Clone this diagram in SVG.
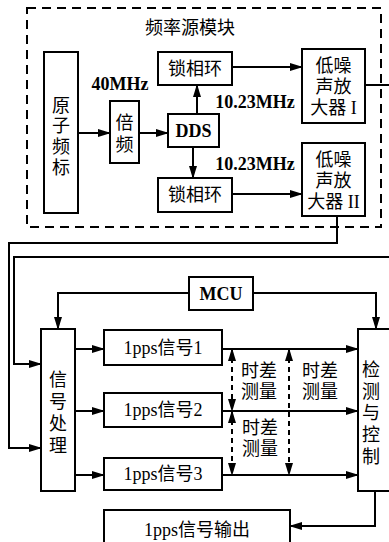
<svg xmlns="http://www.w3.org/2000/svg" width="389" height="542" viewBox="0 0 389 542">
<style>
.box{fill:#fff;stroke:#000;stroke-width:2}
.ln{fill:none;stroke:#000;stroke-width:2}
.arr{marker-end:url(#ah)}
.dash{fill:none;stroke:#000;stroke-width:2;stroke-dasharray:5 4;marker-start:url(#ahs);marker-end:url(#ah)}
text{font-family:"Liberation Serif","Noto Sans CJK SC",serif;font-size:18px;fill:#000;text-anchor:middle;dominant-baseline:central}
.b{font-weight:bold}
</style>
<defs>
<marker id="ah" markerUnits="userSpaceOnUse" markerWidth="13" markerHeight="8" refX="12" refY="4" orient="auto"><path d="M0,0 L13,4 L0,8 Z" fill="#000"/></marker>
<marker id="ahs" markerUnits="userSpaceOnUse" markerWidth="13" markerHeight="8" refX="12" refY="4" orient="auto-start-reverse"><path d="M0,0 L13,4 L0,8 Z" fill="#000"/></marker>
</defs>
<rect x="0" y="0" width="389" height="542" fill="#fff"/>
<g id="freq-module">
<rect x="27" y="8" width="354" height="219" fill="none" stroke="#000" stroke-width="2" stroke-dasharray="9 6"/>
<text x="190" y="28">频率源模块</text>
</g>
<g id="connectors">
<line class="ln arr" x1="78" y1="133" x2="110" y2="133"/>
<line class="ln arr" x1="139" y1="133" x2="168" y2="133"/>
<line class="ln arr" x1="197" y1="114" x2="197" y2="85"/>
<line class="ln arr" x1="232" y1="67" x2="302" y2="67"/>
<line class="ln arr" x1="193" y1="147" x2="193" y2="178"/>
<line class="ln arr" x1="232" y1="194" x2="302" y2="194"/>
<line class="ln" x1="365" y1="85" x2="389" y2="85"/>
<polyline class="ln arr" points="337,216 337,243 9,243 9,448 41,448"/>
<polyline class="ln arr" points="389,257 14,257 14,364 41,364"/>
<polyline class="ln arr" points="189,293 58,293 58,329"/>
<polyline class="ln arr" points="253,293 376,293 376,329"/>
<line class="ln arr" x1="75" y1="349" x2="104" y2="349"/>
<line class="ln arr" x1="75" y1="411" x2="104" y2="411"/>
<line class="ln arr" x1="75" y1="475" x2="104" y2="475"/>
<line class="ln arr" x1="222" y1="349" x2="358" y2="349"/>
<line class="ln arr" x1="222" y1="411" x2="358" y2="411"/>
<line class="ln arr" x1="222" y1="475" x2="358" y2="475"/>
<line class="dash" x1="232" y1="349" x2="232" y2="411"/>
<line class="dash" x1="232" y1="411" x2="232" y2="475"/>
<line class="dash" x1="289" y1="349" x2="289" y2="475"/>
<polyline class="ln arr" points="375,491 375,526 290,526"/>
</g>
<g id="atomic"><rect class="box" x="44" y="52" width="34" height="161"/>
<text x="61" y="106">原</text><text x="61" y="126">子</text><text x="61" y="147">频</text><text x="61" y="168">标</text></g>
<g id="multiplier"><rect class="box" x="110" y="101" width="29" height="62"/>
<text x="124.5" y="123">倍</text><text x="124.5" y="145">频</text></g>
<g id="label-40"><text class="b" x="120" y="84">40MHz</text></g>
<g id="dds"><rect class="box" x="168" y="114" width="51" height="33"/><text class="b" x="193.5" y="131">DDS</text></g>
<g id="pll1"><rect class="box" x="158" y="52" width="74" height="33"/><text x="195" y="69">锁相环</text></g>
<g id="pll2"><rect class="box" x="158" y="178" width="74" height="34"/><text x="195" y="195">锁相环</text></g>
<g id="label-f1"><text class="b" x="255" y="102">10.23MHz</text></g>
<g id="label-f2"><text class="b" x="255" y="164">10.23MHz</text></g>
<g id="lna1"><rect class="box" x="302" y="49" width="63" height="74"/>
<text x="333.5" y="66">低噪</text><text x="333.5" y="87">声放</text><text x="333.5" y="108">大器 I</text></g>
<g id="lna2"><rect class="box" x="302" y="143" width="63" height="73"/>
<text x="333.5" y="160">低噪</text><text x="333.5" y="181">声放</text><text x="333.5" y="202">大器 II</text></g>
<g id="mcu"><rect class="box" x="189" y="277" width="64" height="33"/><text class="b" x="221" y="294">MCU</text></g>
<g id="sigproc"><rect class="box" x="41" y="329" width="34" height="162"/>
<text x="58" y="380">信</text><text x="58" y="402">号</text><text x="58" y="424">处</text><text x="58" y="446">理</text></g>
<g id="pps1"><rect class="box" x="104" y="330" width="118" height="35"/><text x="163" y="348">1pps信号1</text></g>
<g id="pps2"><rect class="box" x="104" y="393" width="118" height="34"/><text x="163" y="410">1pps信号2</text></g>
<g id="pps3"><rect class="box" x="104" y="458" width="118" height="32"/><text x="163" y="474">1pps信号3</text></g>
<g id="detect"><rect class="box" x="358" y="329" width="40" height="162"/>
<text x="371" y="370">检</text><text x="371" y="392">测</text><text x="371" y="413">与</text><text x="371" y="435">控</text><text x="371" y="457">制</text></g>
<g id="tdm1"><text x="259" y="371">时差</text><text x="259" y="392">测量</text></g>
<g id="tdm2"><text x="320" y="371">时差</text><text x="320" y="392">测量</text></g>
<g id="tdm3"><text x="260" y="428">时差</text><text x="260" y="449">测量</text></g>
<g id="output"><rect class="box" x="104" y="510" width="186" height="40"/><text x="197" y="530">1pps信号输出</text></g>
</svg>
